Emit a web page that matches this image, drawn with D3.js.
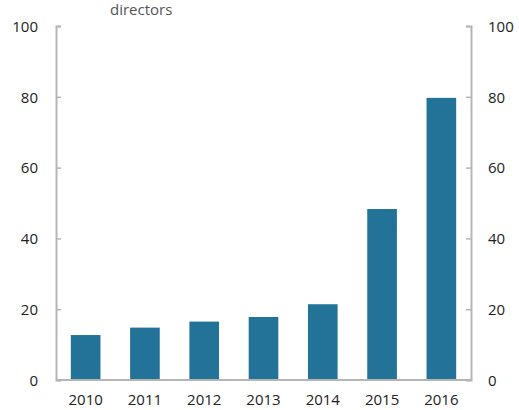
<!DOCTYPE html>
<html><head><meta charset="utf-8">
<script src="https://cdn.jsdelivr.net/npm/d3@7"></script>
<style>body{margin:0;background:#fff}</style>
</head><body>
<script>
const years = ["2010","2011","2012","2013","2014","2015","2016"];
const values = [12.7, 14.8, 16.5, 17.8, 21.4, 48.3, 79.7];
const yTicks = [0, 20, 40, 60, 80, 100];
const titleText = "directors";

const W = 519, H = 410;
const svg = d3.select("body").append("svg").attr("width", W).attr("height", H)
  .style("font-family", "'Open Sans', sans-serif");

const x = d3.scaleBand().domain(years).range([56, 471]).paddingInner(0.5).paddingOuter(0.25);
const y = d3.scaleLinear().domain([0, 100]).range([380, 26]);

svg.append("text").attr("x", 110).attr("y", 15).attr("fill", "#555")
  .style("font-size", "15px").text(titleText);

svg.selectAll("rect.bar").data(values).join("rect").attr("class", "bar")
  .attr("x", (d, i) => x(years[i])).attr("width", x.bandwidth())
  .attr("y", d => y(d)).attr("height", d => y(0) - y(d))
  .attr("fill", "#237399");

const axisColor = "#b5b5b5";
function styleAxis(g) {
  g.select(".domain").attr("stroke", axisColor).attr("stroke-width", 2);
  g.selectAll(".tick line").attr("stroke", axisColor).attr("stroke-width", 1.5);
  g.selectAll(".tick text").attr("fill", "#222").style("font-size", "15px");
  g.attr("font-family", null).attr("font-size", null);
}

const left = svg.append("g").attr("transform", "translate(56,0)")
  .call(d3.axisRight(y).tickValues(yTicks).tickSize(5).tickSizeOuter(5).tickFormat(d3.format("d")));
left.call(styleAxis);
left.selectAll(".tick text").attr("x", -18).attr("text-anchor", "end").attr("dy", "0.35em");

const right = svg.append("g").attr("transform", "translate(471,0)")
  .call(d3.axisLeft(y).tickValues(yTicks).tickSize(5).tickSizeOuter(5).tickFormat(d3.format("d")));
right.call(styleAxis);
right.selectAll(".tick text").attr("x", 17).attr("text-anchor", "start").attr("dy", "0.35em");

const bottom = svg.append("g").attr("transform", "translate(0,380)")
  .call(d3.axisBottom(x).tickSize(0).tickSizeOuter(0));
bottom.call(styleAxis);
bottom.select(".domain").attr("d", "M56,0H471");
bottom.selectAll(".tick text").attr("y", 14).attr("dy", "0.71em");
</script>
</body></html>
